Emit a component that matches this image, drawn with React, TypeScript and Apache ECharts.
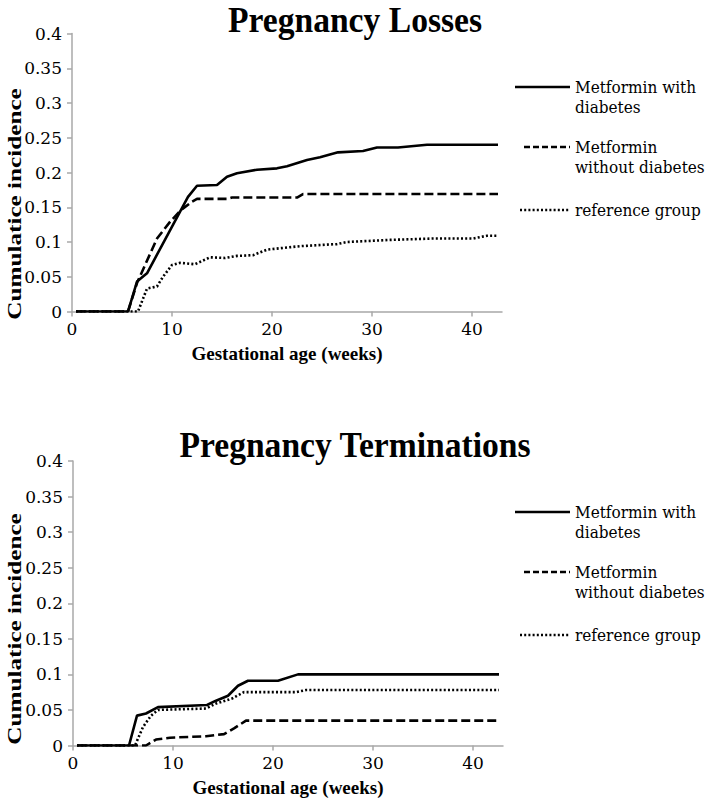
import React, { useEffect, useRef } from "react";
import * as echarts from "echarts";

// ---------- data ----------
const titles = ["Pregnancy Losses", "Pregnancy Terminations"];
const seriesNames = ["Metformin with\ndiabetes", "Metformin\nwithout diabetes", "reference group"];
const xTicks = [0, 10, 20, 30, 40];
const xAxisTitle = "Gestational age (weeks)";
const yAxisTitle = "Cumulatice incidence";

// Pregnancy losses: [week, cumulative incidence]
const lossMetDiab: [number, number][] = [
  [0.4, 0], [5.6, 0], [6.5, 0.043], [7.5, 0.055], [11.6, 0.165], [12.5, 0.181], [14.5, 0.182],
  [15.5, 0.194], [16.5, 0.199], [18.5, 0.204], [20.5, 0.206], [21.5, 0.209], [23.5, 0.218],
  [24.8, 0.222], [26.6, 0.229], [29.1, 0.231], [30.5, 0.236], [32.6, 0.236], [35.5, 0.24], [42.6, 0.24],
];
const lossMetNoDiab: [number, number][] = [
  [0.4, 0], [5.6, 0], [6.5, 0.041], [8.5, 0.105], [9.8, 0.129], [10.9, 0.146], [12.0, 0.158],
  [12.5, 0.162], [15.5, 0.162], [16, 0.164], [22.5, 0.164], [23.1, 0.169], [42.6, 0.169],
];
const lossRef: [number, number][] = [
  [0.4, 0], [6.6, 0], [7.5, 0.033], [8.5, 0.036], [9.1, 0.05], [10, 0.067], [10.8, 0.07],
  [12.3, 0.068], [13.8, 0.078], [15.3, 0.077], [16.5, 0.08], [18.1, 0.081], [19.5, 0.089],
  [20.8, 0.091], [22.8, 0.094], [26.5, 0.097], [27.5, 0.1], [31.8, 0.103], [36.1, 0.105],
  [40.1, 0.105], [41.5, 0.109], [42.6, 0.109],
];

// Pregnancy terminations
const termMetDiab: [number, number][] = [
  [0.4, 0], [5.6, 0], [6.4, 0.042], [7.3, 0.045], [8.5, 0.054], [13.4, 0.057], [14.3, 0.063],
  [15.5, 0.07], [16.5, 0.084], [17.5, 0.091], [20.5, 0.091], [22.5, 0.1], [42.6, 0.1],
];
const termMetNoDiab: [number, number][] = [
  [0.4, 0], [7.3, 0], [8.3, 0.0084], [9.7, 0.011], [13.3, 0.013], [15.1, 0.016], [16.1, 0.024],
  [17.3, 0.035], [42.6, 0.035],
];
const termRef: [number, number][] = [
  [0.4, 0], [6.2, 0], [7.0, 0.026], [7.8, 0.042], [8.5, 0.05], [13.3, 0.052], [14.3, 0.059],
  [15.9, 0.066], [17.1, 0.075], [22.3, 0.075], [23.3, 0.078], [42.6, 0.078],
];

const panels = [
  [lossMetDiab, lossMetNoDiab, lossRef],
  [termMetDiab, termMetNoDiab, termRef],
];

// ---------- styles ----------
const BOLD_FONT = "Liberation Serif";
const TICK_FONT = "DejaVu Serif";
const LEGEND_FONT = "DejaVu Serif Condensed";
const AXIS_GREY = "#a8a8a8";
const lineStyles = [
  { type: "solid" as any, width: 2.6 },
  { type: [9, 4] as any, width: 2.6 },
  { type: [2, 2.2] as any, width: 2.6 },
];
const legendDash = [null, [6, 3], [2, 2.2]];

const grids = [
  { left: 72, top: 33.5, width: 430, height: 278 },
  { left: 73, top: 461, width: 430, height: 284.5 },
];
const panelOffsetY = [0, 425];

export default function App() {
  const ref = useRef<HTMLDivElement>(null);

  useEffect(() => {
    document.body.style.margin = "0";
    if (!ref.current) return;
    const chart = echarts.init(ref.current, undefined, { renderer: "svg" });

    const xAxes = grids.map((_, i) => ({
      type: "value",
      gridIndex: i,
      min: 0,
      max: 43,
      name: xAxisTitle,
      nameLocation: "middle",
      nameGap: 32,
      nameTextStyle: { fontFamily: BOLD_FONT, fontWeight: "bold", fontSize: 19, color: "#000" },
      axisLine: { show: true, lineStyle: { color: AXIS_GREY, width: 1.5 } },
      axisTick: { show: true, length: 5, lineStyle: { color: AXIS_GREY, width: 1.5 }, customValues: xTicks },
      axisLabel: { fontFamily: TICK_FONT, fontSize: 17, color: "#000", margin: 9, customValues: xTicks },
      splitLine: { show: false },
    }));

    const yAxes = grids.map((_, i) => ({
      type: "value",
      gridIndex: i,
      min: 0,
      max: 0.4,
      interval: 0.05,
      axisLine: { show: true, lineStyle: { color: AXIS_GREY, width: 1.5 } },
      axisTick: { show: true, length: 5, lineStyle: { color: AXIS_GREY, width: 1.5 } },
      axisLabel: { fontFamily: TICK_FONT, fontSize: 17, color: "#000", margin: 10 },
      splitLine: { show: false },
    }));

    const series: any[] = [];
    panels.forEach((panel, p) => {
      panel.forEach((data, s) => {
        series.push({
          type: "line",
          name: seriesNames[s],
          xAxisIndex: p,
          yAxisIndex: p,
          data,
          showSymbol: false,
          symbol: "none",
          lineStyle: { color: "#000", ...lineStyles[s], cap: "butt" },
          z: 10 - s,
        });
      });
    });

    const graphic: any[] = [];
    const legendLineY = [87, 147, 210];
    const legendLineX1 = [515, 524, 520];
    panels.forEach((_, p) => {
      const off = panelOffsetY[p];
      graphic.push({
        type: "text",
        x: 355,
        y: 20 + off,
        style: {
          text: titles[p],
          fontFamily: BOLD_FONT,
          fontWeight: "bold",
          fontSize: 35,
          fill: "#000",
          align: "center",
          verticalAlign: "middle",
        },
        scaleX: 0.96,
      });
      graphic.push({
        type: "text",
        x: 15,
        y: 204 + off,
        rotation: Math.PI / 2,
        style: {
          text: yAxisTitle,
          fontFamily: BOLD_FONT,
          fontWeight: "bold",
          fontSize: 24,
          fill: "#000",
          align: "center",
          verticalAlign: "middle",
        },
        scaleX: 1.05,
        scaleY: 0.8,
      });
      seriesNames.forEach((nm, s) => {
        const ly = legendLineY[s] + off;
        graphic.push({
          type: "line",
          shape: { x1: legendLineX1[s], y1: ly, x2: 570, y2: ly },
          style: { stroke: "#000", lineWidth: 2.4, lineDash: legendDash[s] || undefined },
        });
        graphic.push({
          type: "text",
          x: 575,
          y: ly - 10,
          style: {
            text: nm,
            fontFamily: LEGEND_FONT,
            fontSize: 17,
            lineHeight: 20,
            fill: "#000",
            align: "left",
            verticalAlign: "top",
          },
        });
      });
    });

    chart.setOption({
      animation: false,
      backgroundColor: "#fff",
      grid: grids.map((g) => ({ ...g, containLabel: false })),
      xAxis: xAxes,
      yAxis: yAxes,
      series,
      graphic,
    });

    return () => chart.dispose();
  }, []);

  return <div ref={ref} style={{ width: 709, height: 799 }} />;
}
